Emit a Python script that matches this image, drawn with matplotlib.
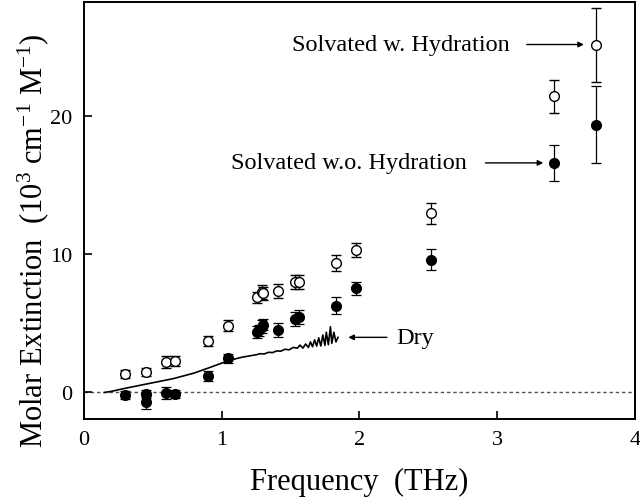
import matplotlib
matplotlib.use("Agg")
import matplotlib.pyplot as plt

plt.rcParams['font.family'] = ['Liberation Serif', 'DejaVu Serif']
plt.rcParams['mathtext.fontset'] = 'custom'
plt.rcParams['mathtext.rm'] = 'Liberation Serif'
plt.rcParams['mathtext.it'] = 'Liberation Serif:italic'

# solvated with hydration (open circles)
freq_w = [0.30, 0.45, 0.60, 0.66, 0.90, 1.05, 1.26, 1.29, 1.30, 1.41, 1.53, 1.56, 1.83, 1.975, 2.52, 3.415, 3.72]
ext_w = [1.35, 1.5, 2.2, 2.28, 3.73, 4.82, 6.87, 7.27, 7.16, 7.3, 7.95, 8.0, 9.35, 10.3, 12.95, 21.4, 25.1]
err_w = [0.3, 0.3, 0.45, 0.35, 0.35, 0.4, 0.4, 0.5, 0.45, 0.5, 0.5, 0.5, 0.6, 0.5, 0.75, 1.2, 2.7]

# solvated without hydration (filled circles)
freq_wo = [0.30, 0.45, 0.45, 0.60, 0.66, 0.90, 1.05, 1.26, 1.27, 1.29, 1.30, 1.41, 1.53, 1.56, 1.83, 1.975, 2.52, 3.415, 3.72]
ext_wo = [-0.2, -0.12, -0.72, -0.05, -0.12, 1.2, 2.46, 4.38, 4.5, 4.75, 4.9, 4.5, 5.3, 5.42, 6.26, 7.52, 9.6, 16.6, 19.35]
err_wo = [0.3, 0.3, 0.45, 0.45, 0.3, 0.35, 0.35, 0.45, 0.4, 0.45, 0.4, 0.5, 0.5, 0.5, 0.6, 0.45, 0.75, 1.3, 2.75]

# dry curve
freq_dry = [0.15, 0.2, 0.3, 0.4, 0.5, 0.65, 0.8, 0.9, 1.05, 1.15, 1.25, 1.28, 1.31, 1.34, 1.37, 1.40,
            1.43, 1.46, 1.49, 1.52, 1.55, 1.57, 1.59, 1.61, 1.63, 1.645, 1.66, 1.675, 1.69, 1.705,
            1.72, 1.735, 1.75, 1.76, 1.775, 1.79, 1.80, 1.815, 1.83, 1.845]
ext_dry = [0.0, 0.08, 0.3, 0.5, 0.7, 1.0, 1.4, 1.75, 2.3, 2.55, 2.72, 2.8, 2.78, 2.9, 2.88, 3.0,
           2.98, 3.12, 3.08, 3.25, 3.2, 3.42, 3.2, 3.5, 3.25, 3.65, 3.3, 3.8, 3.35, 3.95,
           3.35, 4.15, 3.4, 4.35, 3.45, 4.75, 3.55, 4.35, 3.65, 3.98]

fig = plt.figure(figsize=(6.4, 5.02), dpi=100)
ax = fig.add_axes([0.131, 0.163, 0.861, 0.831])

ax.axhline(0, color='#555555', lw=1.0, ls=(0, (2.5, 2)), zorder=1)
ax.plot(freq_dry, ext_dry, color='black', lw=1.2, zorder=2)

ax.errorbar(freq_wo, ext_wo, yerr=err_wo, fmt='o', ms=7, mfc='black', mec='black',
            ecolor='black', elinewidth=0.9, capsize=3.5, capthick=0.9, zorder=3)
ax.errorbar(freq_w, ext_w, yerr=err_w, fmt='o', ms=7, mfc='white', mec='black', mew=1.0,
            ecolor='black', elinewidth=0.9, capsize=3.5, capthick=0.9, zorder=4)

arrow = dict(arrowstyle='-|>', color='black', lw=1.0, mutation_scale=8, shrinkA=0, shrinkB=0)
ax.annotate('', xy=(3.63, 25.13), xytext=(3.215, 25.13), arrowprops=arrow)
ax.text(1.51, 25.13, 'Solvated w. Hydration', fontsize=17.5, va='center', ha='left')
ax.annotate('', xy=(3.335, 16.58), xytext=(2.915, 16.58), arrowprops=arrow)
ax.text(1.07, 16.58, 'Solvated w.o. Hydration', fontsize=17.5, va='center', ha='left')
ax.annotate('', xy=(1.92, 3.98), xytext=(2.2, 3.98), arrowprops=arrow)
ax.text(2.266, 3.98, 'Dry', fontsize=17.5, va='center', ha='left')

ax.set_xlim(0, 4)
ax.set_ylim(-1.93, 28.2)
ax.set_xticks([0, 1, 2, 3, 4])
ax.set_yticks([0, 10, 20])
ax.tick_params(direction='in', length=6, width=1.2, labelsize=16, pad=8)
for s in ax.spines.values():
    s.set_linewidth(1.4)

ax.set_xlabel('Frequency  (THz)', fontsize=22, labelpad=13)
ax.set_ylabel('Molar Extinction  (10$^{3}$ cm$^{-1}$ M$^{-1}$)', fontsize=22)
ax.yaxis.set_label_coords(-0.06, 0.43)

fig.savefig('out.png', dpi=100)
